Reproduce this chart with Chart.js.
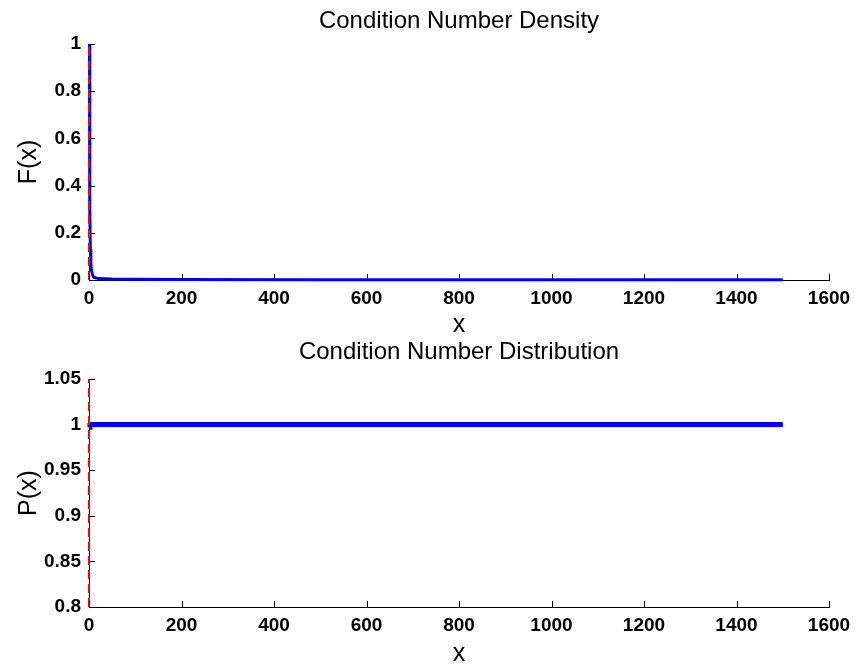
<!DOCTYPE html>
<html>
<head>
<meta charset="utf-8">
<script src="https://cdn.jsdelivr.net/npm/chart.js@4.4.1/dist/chart.umd.min.js"></script>
<style>
  html,body{margin:0;padding:0;background:#fff;}
  #wrap{position:relative;width:859px;height:665px;}
  .c{position:absolute;left:0;width:859px;}
</style>
</head>
<body>
<div id="wrap">
  <div class="c" style="top:0;height:338px;"><canvas id="top"></canvas></div>
  <div class="c" style="top:338px;height:327px;"><canvas id="bot"></canvas></div>
</div>
<script>
// ---- data ----
const densityX = [1, 1.2, 1.5, 2, 3, 4, 5, 7, 10, 20, 50, 100, 200, 500, 1000, 1500];
const densityY = [1, 0.75, 0.5, 0.3, 0.13, 0.07, 0.045, 0.025, 0.012, 0.006, 0.004, 0.003, 0.002, 0.0015, 0.001, 0.001];
const densityRefX = [0, 0];
const densityRefY = [0, 1];
const distX = [1, 2, 5, 10, 50, 100, 200, 500, 1000, 1500];
const distY = [0.997, 0.9995, 1, 1, 1, 1, 1, 1, 1, 1];
const distRefX = [0, 0];
const distRefY = [0.8, 1.05];
const xTicks = [0, 200, 400, 600, 800, 1000, 1200, 1400, 1600];
const yTicksTop = [0, 0.2, 0.4, 0.6, 0.8, 1];
const yTicksBot = [0.8, 0.85, 0.9, 0.95, 1, 1.05];

const pts = (xs, ys) => xs.map((x, i) => ({x: x, y: ys[i]}));
const FONT = '"Liberation Sans", Arial, Helvetica, sans-serif';

const inwardTicks = {
  id: 'inwardTicks',
  afterDraw(chart) {
    const ctx = chart.ctx;
    const a = chart.chartArea;
    const xs = chart.scales.x, ys = chart.scales.y;
    ctx.save();
    ctx.strokeStyle = '#000';
    ctx.lineWidth = 1;
    ctx.beginPath();
    xs.ticks.forEach(t => {
      const px = Math.round(xs.getPixelForValue(t.value)) + 0.5;
      ctx.moveTo(px, a.bottom);
      ctx.lineTo(px, a.bottom - 6);
    });
    ys.ticks.forEach(t => {
      const py = Math.round(ys.getPixelForValue(t.value)) + 0.5;
      ctx.moveTo(a.left, py);
      ctx.lineTo(a.left + 6, py);
    });
    ctx.stroke();
    ctx.restore();
  }
};

function makeChart(id, cfg) {
  return new Chart(document.getElementById(id), {
    type: 'line',
    data: { datasets: cfg.datasets },
    options: {
      responsive: true,
      maintainAspectRatio: false,
      animation: false,
      layout: { padding: { left: 0, right: 30, top: 0, bottom: 0 } },
      plugins: {
        legend: { display: false },
        tooltip: { enabled: false },
        title: {
          display: true,
          fullSize: false,
          text: cfg.title,
          color: '#000',
          font: { family: FONT, size: 24, weight: 'normal', lineHeight: 1 },
          padding: cfg.titlePad
        }
      },
      elements: { point: { radius: 0 }, line: { tension: 0 } },
      scales: {
        x: {
          type: 'linear',
          min: 0, max: 1600,
          afterBuildTicks: s => { s.ticks = xTicks.map(v => ({value: v})); },
          afterFit: s => { s.height = cfg.xAxisH; },
          grid: { display: false, drawTicks: false },
          border: { display: true, color: '#000', width: 1 },
          ticks: {
            color: '#000', padding: 7, maxRotation: 0, autoSkip: false,
            font: { family: FONT, size: 19, weight: 'bold' },
            callback: v => String(v)
          },
          title: {
            display: true, text: 'x', color: '#000',
            font: { family: FONT, size: 25, weight: 'normal', lineHeight: 1 },
            padding: { top: 0, bottom: cfg.xTitlePad }
          }
        },
        y: {
          type: 'linear',
          min: cfg.yMin, max: cfg.yMax,
          afterBuildTicks: s => { s.ticks = cfg.yTicks.map(v => ({value: v})); },
          afterFit: s => { s.width = 89; },
          grid: { display: false, drawTicks: false },
          border: { display: true, color: '#000', width: 1 },
          ticks: {
            color: '#000', padding: 8, autoSkip: false,
            font: { family: FONT, size: 19, weight: 'bold' },
            callback: v => String(+(+v).toFixed(2))
          },
          title: {
            display: true, text: cfg.yTitle, color: '#000',
            font: { family: FONT, size: 25, weight: 'normal', lineHeight: 1 },
            padding: { top: 17, bottom: 0 }
          }
        }
      }
    },
    plugins: [inwardTicks]
  });
}

makeChart('top', {
  title: 'Condition Number Density',
  titlePad: { top: 9, bottom: 11 },
  xAxisH: 58, xTitlePad: 0,
  yMin: 0, yMax: 1, yTicks: yTicksTop, yTitle: 'F(x)',
  datasets: [
    { data: pts(densityX, densityY), borderColor: '#0000ff', borderWidth: 3, fill: false, clip: 3, order: 1 },
    { data: pts(densityRefX, densityRefY), borderColor: '#ff0000', borderWidth: 2, borderDash: [9, 5], fill: false, clip: false, order: 0 }
  ]
});

makeChart('bot', {
  title: 'Condition Number Distribution',
  titlePad: { top: 2, bottom: 15 },
  xAxisH: 58, xTitlePad: -2,
  yMin: 0.8, yMax: 1.05, yTicks: yTicksBot, yTitle: 'P(x)',
  datasets: [
    { data: pts(distX, distY), borderColor: '#0000ff', borderWidth: 5, fill: false, clip: 3, order: 1 },
    { data: pts(distRefX, distRefY), borderColor: '#ff0000', borderWidth: 2, borderDash: [9, 5], fill: false, clip: false, order: 0 }
  ]
});
</script>
</body>
</html>
